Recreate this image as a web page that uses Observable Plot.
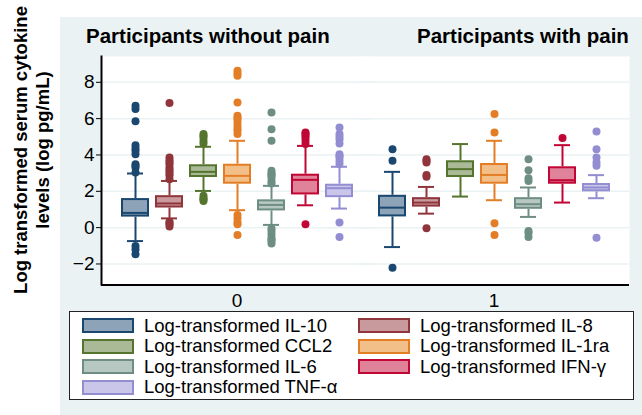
<!DOCTYPE html>
<html>
<head>
<meta charset="utf-8">
<script src="https://cdn.jsdelivr.net/npm/d3@7"></script>
<script src="https://cdn.jsdelivr.net/npm/@observablehq/plot@0.6"></script>
<style>
  html, body { margin: 0; padding: 0; background: #ffffff; }
  #wrap { position: relative; width: 642px; height: 415px; font-family: "Liberation Sans", Arial, sans-serif; }
  #bg { position: absolute; z-index: 0; left: 60px; top: 17px; width: 582px; height: 398px; background: #eaf2f3; }
  #chart { position: relative; z-index: 1; width: 642px; height: 320px; }
  #chart svg { display: block; }
  .title { position: absolute; z-index: 2; top: 24px; font-weight: bold; font-size: 20.5px; color: #000; white-space: nowrap; }
  #ylab { position: absolute; z-index: 2; left: -118px; top: 128px; width: 300px; height: 44px; line-height: 22px;
          text-align: center; font-weight: bold; font-size: 18.5px; transform: rotate(-90deg); transform-origin: 50% 50%; white-space: nowrap; }
  #legend { position: absolute; z-index: 2; left: 69px; top: 311px; width: 563px; height: 83.5px; background: #fff; border: 1px solid #222;
            display: grid; grid-template-columns: 276px 276px; grid-auto-rows: 20.5px; padding-top: 3.5px; box-sizing: content-box; }
  .item { display: flex; align-items: center; font-size: 18.5px; white-space: nowrap; }
  .sw { width: 48px; height: 11px; margin-left: 12px; margin-right: 10px; border: 2px solid; }
</style>
</head>
<body>
<div id="wrap">
  <div id="bg"></div>
  <div id="chart"></div>
  <div class="title" id="t0" style="left:86px"></div>
  <div class="title" id="t1" style="left:417px"></div>
  <div id="ylab"></div>
  <div id="legend"></div>
</div>
<script>
// ---- data ----
const groups = [0, 1];
const groupTitles = ["Participants without pain", "Participants with pain"];
const cytokines = ["IL-10", "IL-8", "CCL2", "IL-1ra", "IL-6", "IFN-γ", "TNF-α"];
const legendLabels = ["Log-transformed IL-10", "Log-transformed IL-8", "Log-transformed CCL2", "Log-transformed IL-1ra",
                      "Log-transformed IL-6", "Log-transformed IFN-γ", "Log-transformed TNF-α"];
const yLabelLines = ["Log transformed serum cytokine", "levels (log pg/mL)"];
const yTicks = [-2, 0, 2, 4, 6, 8];
const yDomain = [-3.13, 9.42];

// group 0 (without pain)
const q1_0  = [0.58, 1.08, 2.76, 2.39, 0.92, 1.80, 1.65];
const med_0 = [0.81, 1.33, 3.07, 2.85, 1.25, 2.63, 2.17];
const q3_0  = [1.60, 1.76, 3.46, 3.49, 1.53, 2.94, 2.39];
const lo_0  = [-0.74, 0.51, 2.02, 0.96, 0.15, 1.23, 1.05];
const hi_0  = [2.98, 2.57, 4.45, 4.78, 2.30, 4.50, 3.35];
const out_0 = [
  [6.71, 6.53, 5.85, 4.54, 4.35, 4.23, 4.04, 3.49, 3.40, 3.31, 3.03, -1.01, -1.20, -1.47],
  [6.86, 3.86, 3.71, 3.58, 3.49, 3.31, 3.18, 3.09, 2.95, 2.85, 2.67, 0.33, 0.25, 0.18, 0.06],
  [5.15, 5.06, 4.96, 4.78, 4.63, 1.75, 1.62, 1.56, 1.47],
  [8.64, 8.50, 8.36, 6.89, 6.16, 6.05, 5.97, 5.80, 5.61, 5.45, 5.33, 5.15, 0.70, 0.50, 0.28, 0.18, -0.40],
  [6.34, 5.42, 4.78, 3.13, 3.00, 2.94, 2.85, 2.76, 2.57, 2.43, -0.05, -0.18, -0.37, -0.55, -0.65, -0.74, -0.88],
  [5.24, 5.15, 5.06, 4.95, 4.78, 4.60, 0.18],
  [5.51, 5.15, 5.00, 4.87, 4.63, 4.04, 3.95, 3.86, 3.68, 3.50, 0.28, -0.51]
];
// group 1 (with pain)
const q1_1  = [0.59, 1.13, 2.76, 2.39, 1.01, 2.39, 1.97];
const med_1 = [1.10, 1.38, 3.22, 2.90, 1.29, 2.61, 2.21];
const q3_1  = [1.78, 1.65, 3.68, 3.53, 1.65, 3.35, 2.43];
const lo_1  = [-1.07, 0.77, 1.71, 1.51, 0.59, 1.38, 1.62];
const hi_1  = [3.07, 2.24, 4.60, 4.78, 2.21, 4.54, 2.89];
const out_1 = [
  [4.32, 3.68, -2.21],
  [3.77, 3.68, 3.58, 2.90, 2.80, -0.04],
  [],
  [6.25, 5.24, 0.24, -0.40],
  [3.77, 3.16, 2.72, 2.57, -0.18, -0.30, -0.51],
  [4.93],
  [5.29, 4.32, 3.86, 3.58, 3.40, -0.55]
];

const darkColors  = ["#1a476f", "#90353b", "#55752f", "#e37e26", "#6e8e84", "#c10534", "#938dd2"];
const lightColors = ["#8da3b7", "#c89a9d", "#aaba97", "#f2bf88", "#b7c7c2", "#e08299", "#c9c6e9"];

// ---- build tables ----
const stats = [
  {q1: q1_0, med: med_0, q3: q3_0, lo: lo_0, hi: hi_0, out: out_0},
  {q1: q1_1, med: med_1, q3: q3_1, lo: lo_1, hi: hi_1, out: out_1}
];
const boxes = groups.flatMap(g => cytokines.map((c, i) => ({
  g, c, i, q1: stats[g].q1[i], med: stats[g].med[i], q3: stats[g].q3[i], lo: stats[g].lo[i], hi: stats[g].hi[i]
})));
const outliers = groups.flatMap(g => cytokines.flatMap((c, i) => stats[g].out[i].map(v => ({g, c, i, v}))));

const dark = d => darkColors[d.i];
const light = d => lightColors[d.i];

const chart = Plot.plot({
  width: 642,
  height: 320,
  marginTop: 56,
  marginBottom: 36,
  marginLeft: 100,
  marginRight: 12,
  style: {background: "transparent", fontSize: "19px", fontFamily: "Liberation Sans, Arial, sans-serif", color: "#000", overflow: "visible"},
  fx: {domain: groups, paddingInner: -0.0543, paddingOuter: 0, label: null},
  x: {domain: cytokines, paddingInner: 0.19, paddingOuter: 0.52, axis: null},
  y: {domain: yDomain, label: null},
  marks: [
    Plot.frame({fill: "white", stroke: "none"}),
    Plot.ruleY(yTicks, {stroke: "#eaf2f3", strokeWidth: 1.5}),
    Plot.ruleX(boxes, {fx: "g", x: "c", y1: "q3", y2: "hi", stroke: dark, strokeWidth: 2}),
    Plot.ruleX(boxes, {fx: "g", x: "c", y1: "lo", y2: "q1", stroke: dark, strokeWidth: 2}),
    Plot.tickY(boxes, {fx: "g", x: "c", y: "hi", stroke: dark, strokeWidth: 2, inset: 6}),
    Plot.tickY(boxes, {fx: "g", x: "c", y: "lo", stroke: dark, strokeWidth: 2, inset: 6}),
    Plot.barY(boxes, {fx: "g", x: "c", y1: "q1", y2: "q3", fill: light, stroke: dark, strokeWidth: 2, inset: 1}),
    Plot.tickY(boxes, {fx: "g", x: "c", y: "med", stroke: dark, strokeWidth: 2, inset: 1}),
    Plot.dot(outliers, {fx: "g", x: "c", y: "v", r: 4, fill: dark, stroke: "none"}),
    Plot.ruleY([yDomain[0]], {stroke: "#000", strokeWidth: 2, dy: 0.5}),
    Plot.frame({anchor: "left", facetAnchor: "left", stroke: "#000", strokeWidth: 2}),
    Plot.axisY({ticks: yTicks, tickSize: 5, tickPadding: 2, label: null}),
    Plot.axisFx({anchor: "bottom", tickSize: 0, tickPadding: 9, label: null})
  ]
});
document.getElementById("chart").appendChild(chart);

document.getElementById("t0").textContent = groupTitles[0];
document.getElementById("t1").textContent = groupTitles[1];
document.getElementById("ylab").innerHTML = yLabelLines.map(s => `<div>${s}</div>`).join("");

const legend = document.getElementById("legend");
legendLabels.forEach((lab, i) => {
  const it = document.createElement("div");
  it.className = "item";
  const sw = document.createElement("div");
  sw.className = "sw";
  sw.style.background = lightColors[i];
  sw.style.borderColor = darkColors[i];
  const tx = document.createElement("span");
  tx.textContent = lab;
  it.appendChild(sw);
  it.appendChild(tx);
  legend.appendChild(it);
});
</script>
</body>
</html>
